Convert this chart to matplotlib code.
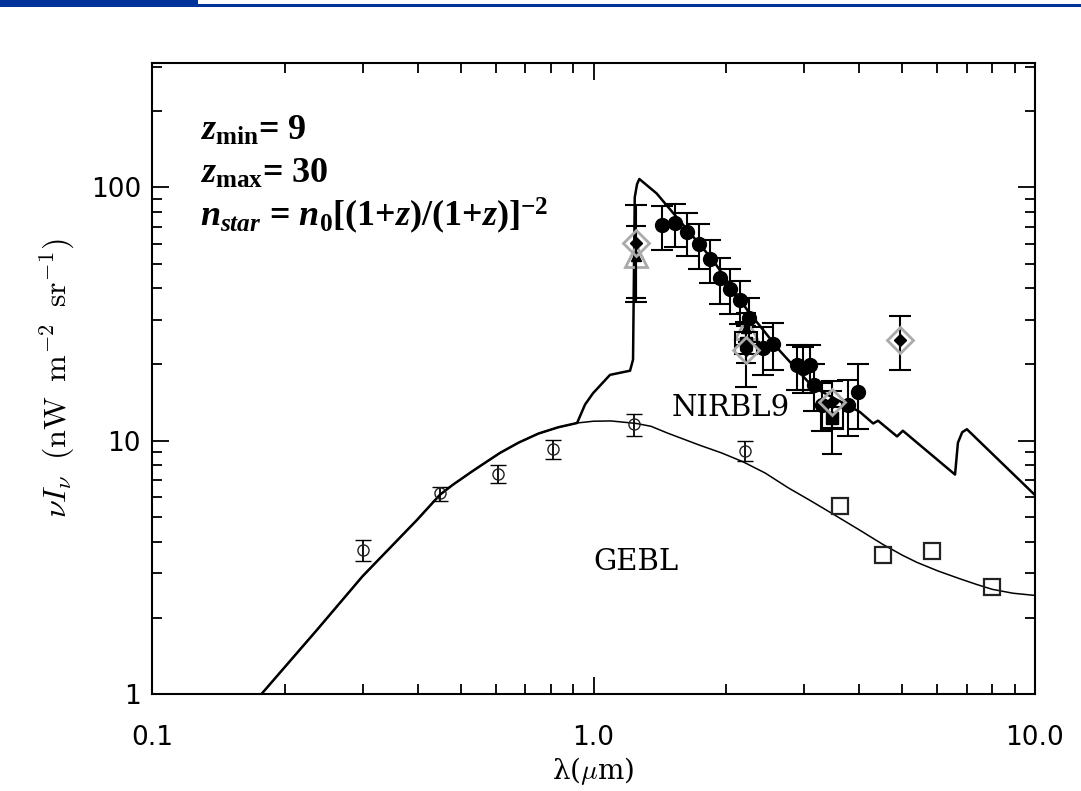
import numpy as np
import matplotlib
matplotlib.use("Agg")
import matplotlib.pyplot as plt
from matplotlib.ticker import FixedLocator, NullFormatter, LogLocator
from matplotlib.patches import Rectangle

# GEBL model curve (wavelength in um, nu I_nu)
gebl_lam = [0.177, 0.237, 0.30, 0.398, 0.449, 0.479, 0.53, 0.575, 0.614, 0.676,
            0.75, 0.832, 0.918, 1.0, 1.096, 1.25, 1.35, 1.475, 1.74, 1.95, 2.18,
            2.45, 2.76, 3.09, 3.49, 3.98, 4.53, 5.01, 5.40, 6.03, 6.76, 7.41,
            8.0, 8.91, 10.0]
gebl_val = [1.0, 1.80, 2.92, 4.86, 6.12, 6.68, 7.55, 8.30, 8.95, 9.82,
            10.67, 11.3, 11.75, 11.94, 11.97, 11.7, 11.4, 10.7, 9.6, 8.95, 8.26,
            7.45, 6.52, 5.82, 5.13, 4.47, 3.89, 3.53, 3.31, 3.06, 2.85, 2.70,
            2.59, 2.50, 2.45]

# NIRBL9 model branch (leaves the GEBL curve at ~0.92 um)
nirbl_lam = [0.918, 0.957, 0.9975, 1.09, 1.21, 1.229, 1.24, 1.255, 1.27, 1.39,
             1.865, 2.23, 2.645, 3.14, 4.01, 4.30, 4.41, 4.87, 5.02, 6.59, 6.69,
             6.84, 7.01, 10.0]
nirbl_val = [11.75, 13.9, 15.4, 18.2, 18.9, 20.9, 91.5, 103, 108, 94.7,
             51.6, 32.8, 22.6, 16.3, 13.0, 11.7, 12.0, 10.4, 10.95, 7.35, 9.82,
             10.8, 11.1, 6.1]

# optical / near-IR galaxy counts (open circles)
gal_lam = [0.301, 0.449, 0.608, 0.81, 1.235, 2.20]
gal_val = [3.69, 6.19, 7.41, 9.3, 11.6, 9.14]
gal_err = [0.35, 0.4, 0.6, 0.8, 1.2, 0.8]

# mid-IR points (open squares)
mir_lam = [3.61, 4.53, 5.84, 8.0]
mir_val = [5.5, 3.53, 3.66, 2.64]

# NIRB measurements (filled circles)
nirb_lam = [1.43, 1.53, 1.63, 1.73, 1.84, 1.93, 2.04, 2.15, 2.25, 2.42, 2.55,
            2.89, 2.98, 3.09, 3.16, 3.29, 3.77, 3.97]
nirb_val = [70.8, 72.2, 66.5, 59.7, 52.1, 43.8, 39.7, 35.9, 30.5, 23.2, 24.1,
            19.9, 19.4, 19.9, 16.6, 13.9, 13.9, 15.6]
nirb_err = [14, 14, 13, 12, 10, 9, 8, 7, 6, 5, 5, 4, 4, 4, 3.5, 3, 3.5, 4.5]

# DIRBE-type points (diamonds)
dia_lam = [1.25, 2.22, 3.47, 4.94]
dia_val = [60.2, 22.8, 14.2, 25.0]
dia_err = [25, 6.5, 3, 6]

# triangles
tri_lam = [1.25, 2.22]
tri_val = [53.5, 27.9]
tri_err = [17, 4]

# squares
sq_lam = [2.22, 3.47]
sq_val = [24.3, 12.3]
sq_err = [4, 3.4]

fig = plt.figure(figsize=(10.81, 7.91), dpi=100)
ax = fig.add_axes([152 / 1081, 1 - 694 / 791, (1035 - 152) / 1081, (694 - 63) / 791])

# header bar of the slide
fig.add_artist(Rectangle((0, 1 - 7 / 791), 198 / 1081, 7 / 791, transform=fig.transFigure,
                         color="#003399", lw=0))
fig.add_artist(Rectangle((198 / 1081, 1 - 7 / 791), 1 - 198 / 1081, 3 / 791,
                         transform=fig.transFigure, color="#003399", lw=0))

# curves
lam_n = [l for l in gebl_lam if l < 0.918] + nirbl_lam
val_n = [v for l, v in zip(gebl_lam, gebl_val) if l < 0.918] + nirbl_val
ax.plot(lam_n, val_n, color="black", lw=1.8, zorder=2)
ax.plot(gebl_lam, gebl_val, color="black", lw=1.1, zorder=2)

# data
ax.errorbar(gal_lam, gal_val, yerr=gal_err, fmt="o", ms=8, mfc="none", mec="#222222",
            mew=1.0, ecolor="black", elinewidth=1.3, capsize=6, capthick=1.3, zorder=4)
ax.plot(mir_lam, mir_val, "s", ms=11, mfc="none", mec="#222222", mew=1.6, zorder=4)

ax.errorbar(tri_lam, tri_val, yerr=tri_err, fmt="none", ecolor="black", elinewidth=1.5,
            capsize=7, capthick=1.5, zorder=3)
ax.plot(tri_lam, tri_val, "^", ms=16, mfc="none", mec="#aaaaaa", mew=2, zorder=4)
ax.plot(tri_lam, tri_val, "^", ms=7, color="black", zorder=5)

ax.errorbar(sq_lam, sq_val, yerr=sq_err, fmt="none", ecolor="black", elinewidth=1.5,
            capsize=7, capthick=1.5, zorder=3)
ax.plot(sq_lam, sq_val, "s", ms=16, mfc="none", mec="black", mew=1.5, zorder=4)
ax.plot(sq_lam, sq_val, "s", ms=8, color="black", zorder=5)

ax.errorbar(nirb_lam, nirb_val, yerr=nirb_err, fmt="o", ms=10, color="black",
            elinewidth=1.5, capsize=8, capthick=1.5, zorder=6)

ax.errorbar(dia_lam, dia_val, yerr=dia_err, fmt="none", ecolor="black", elinewidth=1.5,
            capsize=8, capthick=1.5, zorder=6)
ax.plot(dia_lam, dia_val, "D", ms=13, mfc="none", mec="#aaaaaa", mew=2, zorder=7)
ax.plot(dia_lam, dia_val, "D", ms=6, color="black", zorder=8)

ax.set_xscale("log")
ax.set_yscale("log")
ax.set_xlim(0.1, 10)
ax.set_ylim(1, 310)

ax.xaxis.set_major_locator(FixedLocator([0.1, 1, 10]))
ax.set_xticklabels(["0.1", "1.0", "10.0"])
ax.yaxis.set_major_locator(FixedLocator([1, 10, 100]))
ax.set_yticklabels(["1", "10", "100"])
for a in (ax.xaxis, ax.yaxis):
    a.set_minor_locator(LogLocator(base=10, subs=np.arange(2, 10)))
    a.set_minor_formatter(NullFormatter())
ax.tick_params(which="both", direction="in", top=True, right=True, width=1.3,
               labelsize=19)
ax.tick_params(axis="x", which="major", pad=22)
ax.tick_params(axis="y", which="major", pad=8)
ax.tick_params(which="major", length=12)
ax.tick_params(which="minor", length=7)
for s in ax.spines.values():
    s.set_linewidth(1.5)

ax.set_xlabel(r"λ($\mu$m)", fontsize=20, family="DejaVu Serif", math_fontfamily="cm",
              labelpad=3)
ax.set_ylabel(r"$\nu I_\nu\;\;(\mathrm{nW\;\;m^{-2}\;\;sr^{-1}})$", fontsize=23,
              math_fontfamily="cm", labelpad=10)

ax.text(1.25, 3.31, "GEBL", fontsize=21, family="DejaVu Serif", ha="center", va="center")
ax.text(2.05, 13.5, "NIRBL9", fontsize=21, family="DejaVu Serif", ha="center", va="center")

plt.rcParams["mathtext.fontset"] = "custom"
plt.rcParams["mathtext.rm"] = "Liberation Serif:bold"
plt.rcParams["mathtext.bf"] = "Liberation Serif:bold"
plt.rcParams["mathtext.it"] = "Liberation Serif:italic:bold"
lines = [r"$z_{\mathrm{min}}$= 9",
         r"$z_{\mathrm{max}}$= 30",
         r"$n_{star}$ = $n_{0}$[(1+$z$)/(1+$z$)]$^{\mathrm{-2}}$"]
for i, s in enumerate(lines):
    fig.text(200 / 1081, 1 - (140 + 43 * i) / 791, s, fontsize=26, va="baseline",
             ha="left", family="Liberation Serif", weight="bold",
             math_fontfamily="custom")

fig.savefig("out.png", dpi=100)
